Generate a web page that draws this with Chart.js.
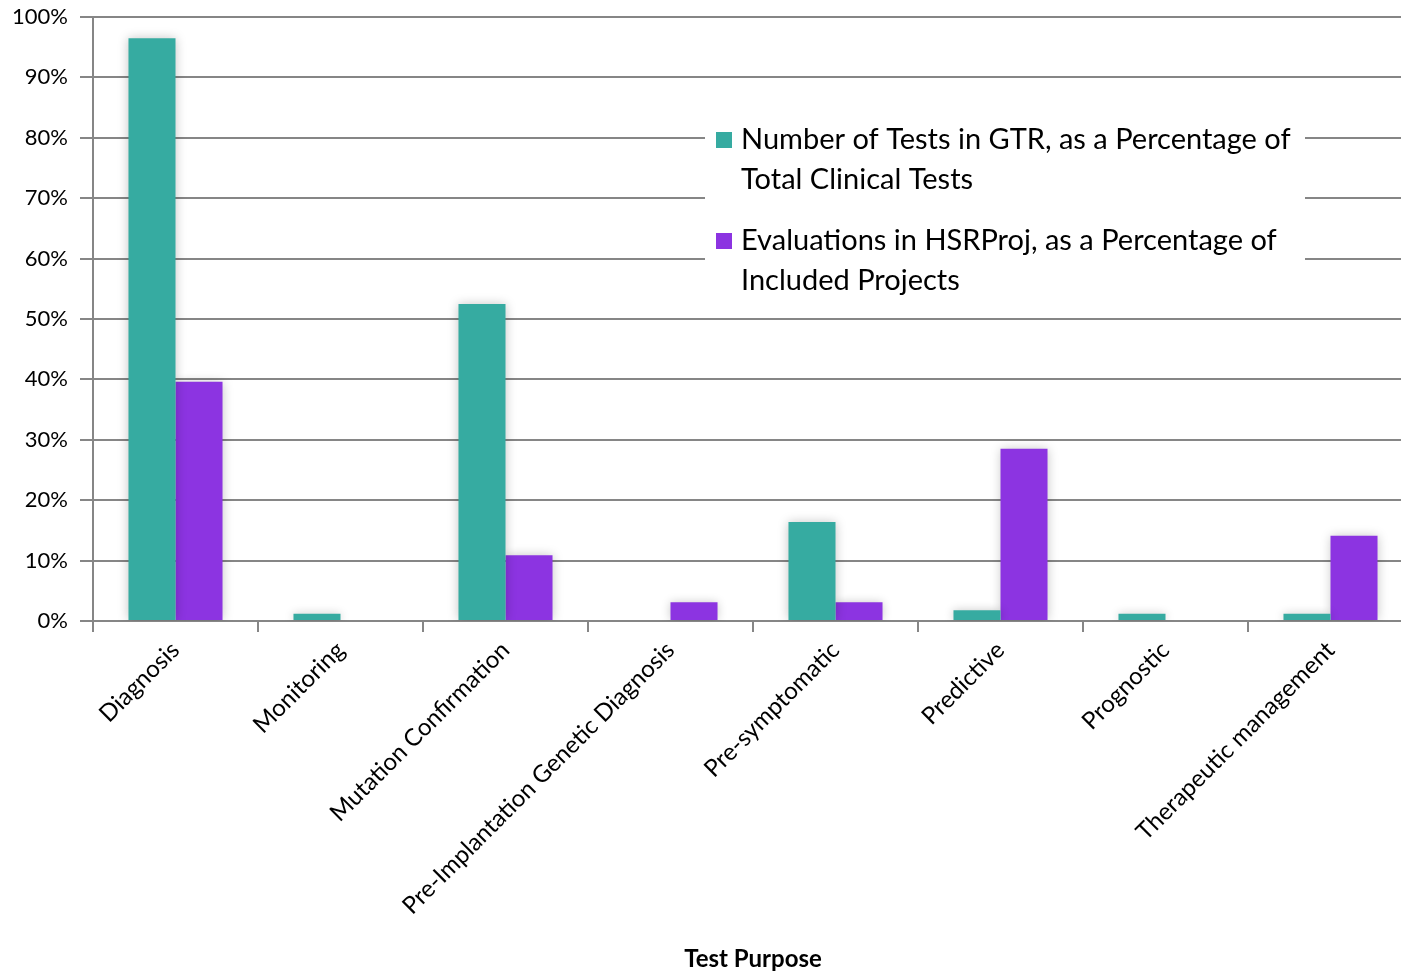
<!DOCTYPE html>
<html>
<head>
<meta charset="utf-8">
<script src="https://cdn.jsdelivr.net/npm/chart.js@4/dist/chart.umd.min.js"></script>
<style>
html, body { margin: 0; padding: 0; overflow: hidden; background: #fff; }
#wrap { position: absolute; left: 0; top: 0; width: 1420px; height: 974px; }
</style>
</head>
<body>
<div id="wrap"><canvas id="c" width="1420" height="974"></canvas></div>
<script>
const categories = ["Diagnosis", "Monitoring", "Mutation Confirmation", "Pre-Implantation Genetic Diagnosis", "Pre-symptomatic", "Predictive", "Prognostic", "Therapeutic management"];
const gtrLabel = "Number of Tests in GTR, as a Percentage of Total Clinical Tests";
const hsrLabel = "Evaluations in HSRProj, as a Percentage of Included Projects";
const gtrValues = [96.5, 1.2, 52.5, 0, 16.4, 1.8, 1.2, 1.2];
const hsrValues = [39.6, 0, 10.9, 3.1, 3.1, 28.5, 0, 14.1];
const yTickValues = [0, 10, 20, 30, 40, 50, 60, 70, 80, 90, 100];
const xAxisTitle = "Test Purpose";

const FONT = "Lato, 'Open Sans', sans-serif";
const TEAL = "rgb(54,171,161)";
const PURPLE = "rgb(140,52,225)";
const GRID = "#868686";

const shadowPlugin = {
  id: 'barShadow',
  beforeDatasetsDraw(chart) {
    const ctx = chart.ctx;
    ctx.save();
    ctx.shadowColor = 'rgba(0,0,0,0.22)';
    ctx.shadowBlur = 10;
    ctx.shadowOffsetX = 0;
    ctx.shadowOffsetY = 0;
  },
  afterDatasetsDraw(chart) {
    chart.ctx.restore();
  }
};

function wrapText(ctx, text, maxW) {
  const words = text.split(' ');
  const lines = [];
  let cur = '';
  for (const w of words) {
    const t = cur ? cur + ' ' + w : w;
    if (ctx.measureText(t).width > maxW && cur) { lines.push(cur); cur = w; }
    else cur = t;
  }
  if (cur) lines.push(cur);
  return lines;
}

const legendPlugin = {
  id: 'boxLegend',
  afterDraw(chart) {
    const ctx = chart.ctx;
    ctx.save();
    ctx.fillStyle = '#fff';
    ctx.fillRect(705, 108, 600, 194);
    ctx.font = "29px " + FONT;
    ctx.textBaseline = 'middle';
    ctx.textAlign = 'left';
    const startYs = [140, 241];
    chart.data.datasets.forEach((ds, i) => {
      const y0 = startYs[i];
      ctx.fillStyle = ds.backgroundColor;
      ctx.fillRect(716, y0 - 8, 16, 16);
      ctx.fillStyle = '#000';
      const lines = wrapText(ctx, ds.label, 572);
      lines.forEach((ln, j) => ctx.fillText(ln, 741, y0 + j * 40));
    });
    ctx.restore();
  }
};

new Chart(document.getElementById('c'), {
  type: 'bar',
  data: {
    labels: categories,
    datasets: [
      { label: gtrLabel, data: gtrValues, backgroundColor: TEAL, borderWidth: 0 },
      { label: hsrLabel, data: hsrValues, backgroundColor: PURPLE, borderWidth: 0 }
    ]
  },
  options: {
    responsive: false,
    animation: false,
    devicePixelRatio: 1,
    layout: { padding: { top: 17, right: 7, left: 0, bottom: 0 } },
    datasets: { bar: { categoryPercentage: 0.57, barPercentage: 1.0 } },
    plugins: {
      legend: { display: false },
      tooltip: { enabled: false },
      title: { display: false }
    },
    scales: {
      x: {
        offset: true,
        grid: { display: true, drawOnChartArea: false, drawTicks: true, tickLength: 11, color: GRID, lineWidth: 2, offset: true },
        border: { display: true, color: GRID, width: 2 },
        ticks: { color: '#000', font: { family: FONT, size: 24 }, maxRotation: 45, minRotation: 45, autoSkip: false, padding: 4 },
        title: { display: true, text: xAxisTitle, color: '#000', font: { family: FONT, size: 24, weight: 'bold' }, padding: { top: 0, bottom: 0 } },
        afterFit(scale) { scale.height = 353; scale.paddingLeft = 0; scale.paddingRight = 0; }
      },
      y: {
        min: 0, max: 100,
        afterBuildTicks(scale) { scale.ticks = yTickValues.map(v => ({ value: v })); },
        grid: { color: GRID, lineWidth: 2, tickLength: 13, drawTicks: true },
        border: { display: true, color: GRID, width: 2 },
        ticks: { color: '#000', font: { family: FONT, size: 22 }, padding: 12, callback: v => v + '%' },
        afterFit(scale) { scale.width = 93; scale.paddingTop = 0; scale.paddingBottom = 0; }
      }
    }
  },
  plugins: [shadowPlugin, legendPlugin]
});
</script>
</body>
</html>
